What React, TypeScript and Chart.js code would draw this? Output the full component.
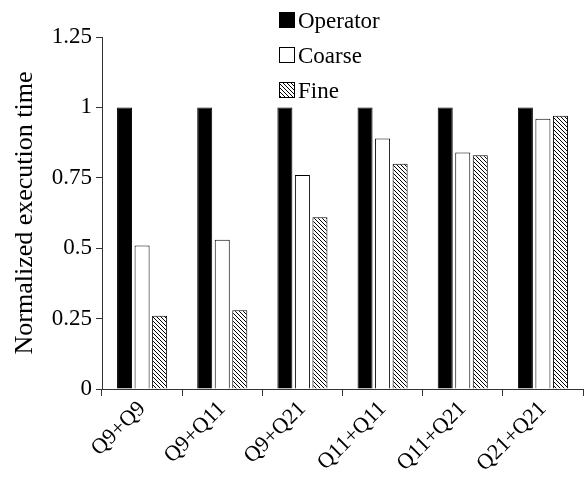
import React, { useEffect, useRef } from "react";
import { Chart, registerables } from "chart.js";

Chart.register(...registerables);

const categories = ["Q9+Q9", "Q9+Q11", "Q9+Q21", "Q11+Q11", "Q11+Q21", "Q21+Q21"];
const seriesNames = ["Operator", "Coarse", "Fine"];
const operatorValues = [1, 1, 1, 1, 1, 1];
const coarseValues = [0.51, 0.53, 0.76, 0.89, 0.84, 0.96];
const fineValues = [0.26, 0.28, 0.61, 0.8, 0.83, 0.97];
const yTicks = [0, 0.25, 0.5, 0.75, 1, 1.25];
const yTickLabels = ["0", "0.25", "0.5", "0.75", "1", "1.25"];
const yTitle = "Normalized execution time";

const FAMILY = "'Liberation Serif', 'Times New Roman', serif";

function makeHatch(): CanvasPattern | string {
  const c = document.createElement("canvas");
  c.width = 4;
  c.height = 4;
  const ctx = c.getContext("2d");
  if (!ctx) return "#888";
  ctx.fillStyle = "#fff";
  ctx.fillRect(0, 0, 4, 4);
  ctx.strokeStyle = "#000";
  ctx.lineWidth = 1;
  ctx.beginPath();
  ctx.moveTo(-1, -1);
  ctx.lineTo(5, 5);
  ctx.moveTo(-1, 3);
  ctx.lineTo(1, 5);
  ctx.moveTo(3, -1);
  ctx.lineTo(5, 1);
  ctx.stroke();
  return ctx.createPattern(c, "repeat") || "#888";
}

const legendPlugin = {
  id: "customLegend",
  afterDraw(chart: any) {
    const ctx = chart.ctx as CanvasRenderingContext2D;
    ctx.save();
    ctx.font = `23px ${FAMILY}`;
    ctx.textBaseline = "alphabetic";
    ctx.textAlign = "left";
    chart.data.datasets.forEach((d: any, i: number) => {
      const y = 12 + i * 35;
      ctx.fillStyle = d.backgroundColor;
      ctx.fillRect(279.5, y + 0.5, 15, 15);
      ctx.strokeStyle = "#000";
      ctx.lineWidth = 1;
      ctx.strokeRect(279.5, y + 0.5, 15, 15);
      ctx.fillStyle = "#000";
      ctx.fillText(d.label, 298, y + 16);
    });
    ctx.restore();
  },
};

export default function App() {
  const ref = useRef<HTMLCanvasElement | null>(null);

  useEffect(() => {
    if (!ref.current) return;
    const hatch = makeHatch();
    const chart = new Chart(ref.current, {
      type: "bar",
      data: {
        labels: categories,
        datasets: [
          {
            label: seriesNames[0],
            data: operatorValues,
            backgroundColor: "#000",
            borderColor: "#000",
            borderWidth: 1,
          },
          {
            label: seriesNames[1],
            data: coarseValues,
            backgroundColor: "#fff",
            borderColor: "#000",
            borderWidth: 1,
          },
          {
            label: seriesNames[2],
            data: fineValues,
            backgroundColor: hatch as any,
            borderColor: "#000",
            borderWidth: 1,
          },
        ],
      },
      options: {
        responsive: false,
        animation: false,
        layout: { padding: { top: 37, right: 3, left: 0, bottom: 0 } },
        plugins: {
          legend: { display: false },
          tooltip: { enabled: false },
        },
        datasets: {
          bar: { categoryPercentage: 0.656, barPercentage: 0.857 },
        },
        scales: {
          x: {
            grid: {
              drawOnChartArea: false,
              drawTicks: true,
              tickLength: 7,
              color: "#333",
              offset: true,
            },
            border: { color: "#333" },
            ticks: {
              minRotation: 45,
              maxRotation: 45,
              autoSkip: false,
              color: "#000",
              padding: 0,
              font: { family: FAMILY, size: 22 },
            },
            afterFit(s: any) {
              s.height = 88;
            },
          },
          y: {
            min: 0,
            max: 1.25,
            afterBuildTicks(s: any) {
              s.ticks = yTicks.map((v) => ({ value: v }));
            },
            ticks: {
              color: "#000",
              padding: 4,
              font: { family: FAMILY, size: 23 },
              callback: (v: any) => {
                const i = yTicks.indexOf(Number(v));
                return i >= 0 ? yTickLabels[i] : String(v);
              },
            },
            grid: {
              drawOnChartArea: false,
              drawTicks: true,
              tickLength: 6,
              color: "#333",
            },
            border: { color: "#333" },
            title: {
              display: true,
              text: yTitle,
              color: "#000",
              font: { family: FAMILY, size: 26 },
              padding: { top: 10, bottom: 0 },
            },
            afterFit(s: any) {
              s.width = 102;
            },
          },
        },
      },
      plugins: [legendPlugin],
    });
    return () => chart.destroy();
  }, []);

  return (
    <div style={{ position: "absolute", left: 0, top: 0, width: 586, height: 477 }}>
      <canvas ref={ref} width={586} height={477} />
    </div>
  );
}
